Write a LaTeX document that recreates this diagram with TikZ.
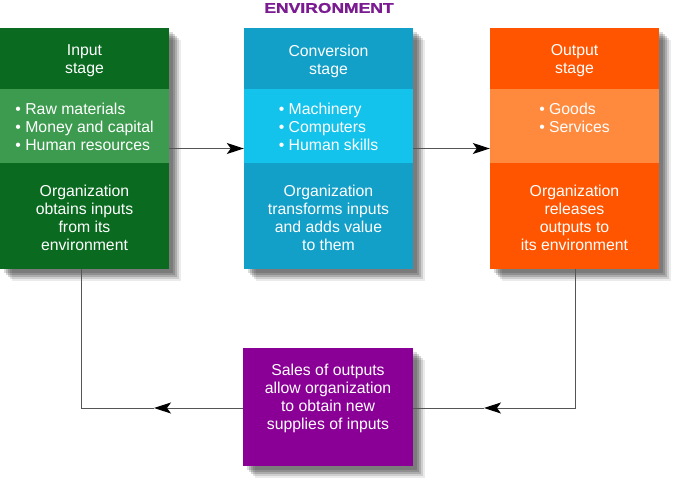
\documentclass[tikz,border=0pt]{standalone}
\usepackage{fontspec}
\setmainfont{Liberation Sans}
\newfontfamily\titlefont[FakeBold=1.2]{Liberation Sans Bold}
\usetikzlibrary{arrows.meta,shadows}
\definecolor{gDark}{HTML}{0A6A20}
\definecolor{gLight}{HTML}{3D9B4F}
\definecolor{bDark}{HTML}{12A0C8}
\definecolor{bLight}{HTML}{14C3EB}
\definecolor{oDark}{HTML}{FF5500}
\definecolor{oLight}{HTML}{FF8A3D}
\definecolor{pFill}{HTML}{8A0096}
\definecolor{tPurple}{HTML}{7B1B92}
\definecolor{lineGray}{HTML}{555555}
\begin{document}
\begin{tikzpicture}[x=1pt,y=-1pt,
  softshadow/.style={
    general shadow={fill=black,opacity=.14,shadow xshift=4pt,shadow yshift=-4pt},
    general shadow={fill=black,opacity=.16,shadow xshift=6pt,shadow yshift=-6pt},
    general shadow={fill=black,opacity=.16,shadow xshift=8pt,shadow yshift=-8pt},
    general shadow={fill=black,opacity=.12,shadow xshift=10pt,shadow yshift=-10pt},
    general shadow={fill=black,opacity=.08,shadow xshift=12pt,shadow yshift=-12pt}},
  stagebox/.style={rectangle,inner sep=0pt,minimum width=169pt,minimum height=241pt,softshadow},
  bandbox/.style={rectangle,inner sep=0pt,minimum width=169pt,minimum height=74pt},
  salesbox/.style={rectangle,inner sep=0pt,minimum width=170pt,minimum height=118pt,softshadow},
  txt/.style={text=white,inner sep=0pt,align=center,font=\fontsize{15.8}{18}\selectfont},
  link/.style={draw=lineGray,line width=1pt},
  conn/.style={link,-{Stealth[length=17pt,width=11pt,inset=4pt,color=black,fill=black]}}
]
\fill[white,use as bounding box] (0,0) rectangle (675,489);

% title
\node[inner sep=0pt,text=tPurple,font=\fontsize{14}{14}\titlefont] (env) at (329,8) {\scalebox{1.25}[1]{ENVIRONMENT}};

% input stage
\node[stagebox,fill=gDark] (inp) at (84.5,148.5) {};
\node[bandbox,fill=gLight] (inpband) at (84.5,126) {};
\node[txt] (inptitle) at (84.5,61) {Input\\stage};
\node[txt,align=left] (inplist) at (84.5,127) {• Raw materials\\• Money and capital\\• Human resources};
\node[txt] (inpdesc) at (84.5,218) {Organization\\obtains inputs\\from its\\environment};

% conversion stage
\node[stagebox,fill=bDark] (conv) at (328.5,148.5) {};
\node[bandbox,fill=bLight] (convband) at (328.5,126) {};
\node[txt] (convtitle) at (328.5,61) {Conversion\\stage};
\node[txt,align=left] (convlist) at (328.5,127) {• Machinery\\• Computers\\• Human skills};
\node[txt] (convdesc) at (328.5,218) {Organization\\transforms inputs\\and adds value\\to them};

% output stage
\node[stagebox,fill=oDark] (out) at (574.5,148.5) {};
\node[bandbox,fill=oLight] (outband) at (574.5,126) {};
\node[txt] (outtitle) at (574.5,61) {Output\\stage};
\node[txt,align=left] (outlist) at (574.5,118) {• Goods\\• Services};
\node[txt] (outdesc) at (574.5,218) {Organization\\releases\\outputs to\\its environment};

% sales box
\node[salesbox,fill=pFill] (sales) at (328,407) {};
\node[txt] (salestext) at (328,398) {Sales of outputs\\allow organization\\to obtain new\\supplies of inputs};

% connectors
\draw[conn] (inp.east) -- (conv.west);
\draw[conn] (conv.east) -- (out.west);

\coordinate (cL) at (81,408);
\coordinate (cR) at (575,408);
\coordinate (tipL) at (154,408);
\coordinate (tipR) at (484,408);
\draw[conn] (cR |- out.south) -- (cR) -- (tipR);
\draw[link] (tipR) -- (cR -| sales.east);
\draw[conn] (cL -| sales.west) -- (tipL);
\draw[link] (tipL) -- (cL) -- (cL |- inp.south);
\end{tikzpicture}
\end{document}
